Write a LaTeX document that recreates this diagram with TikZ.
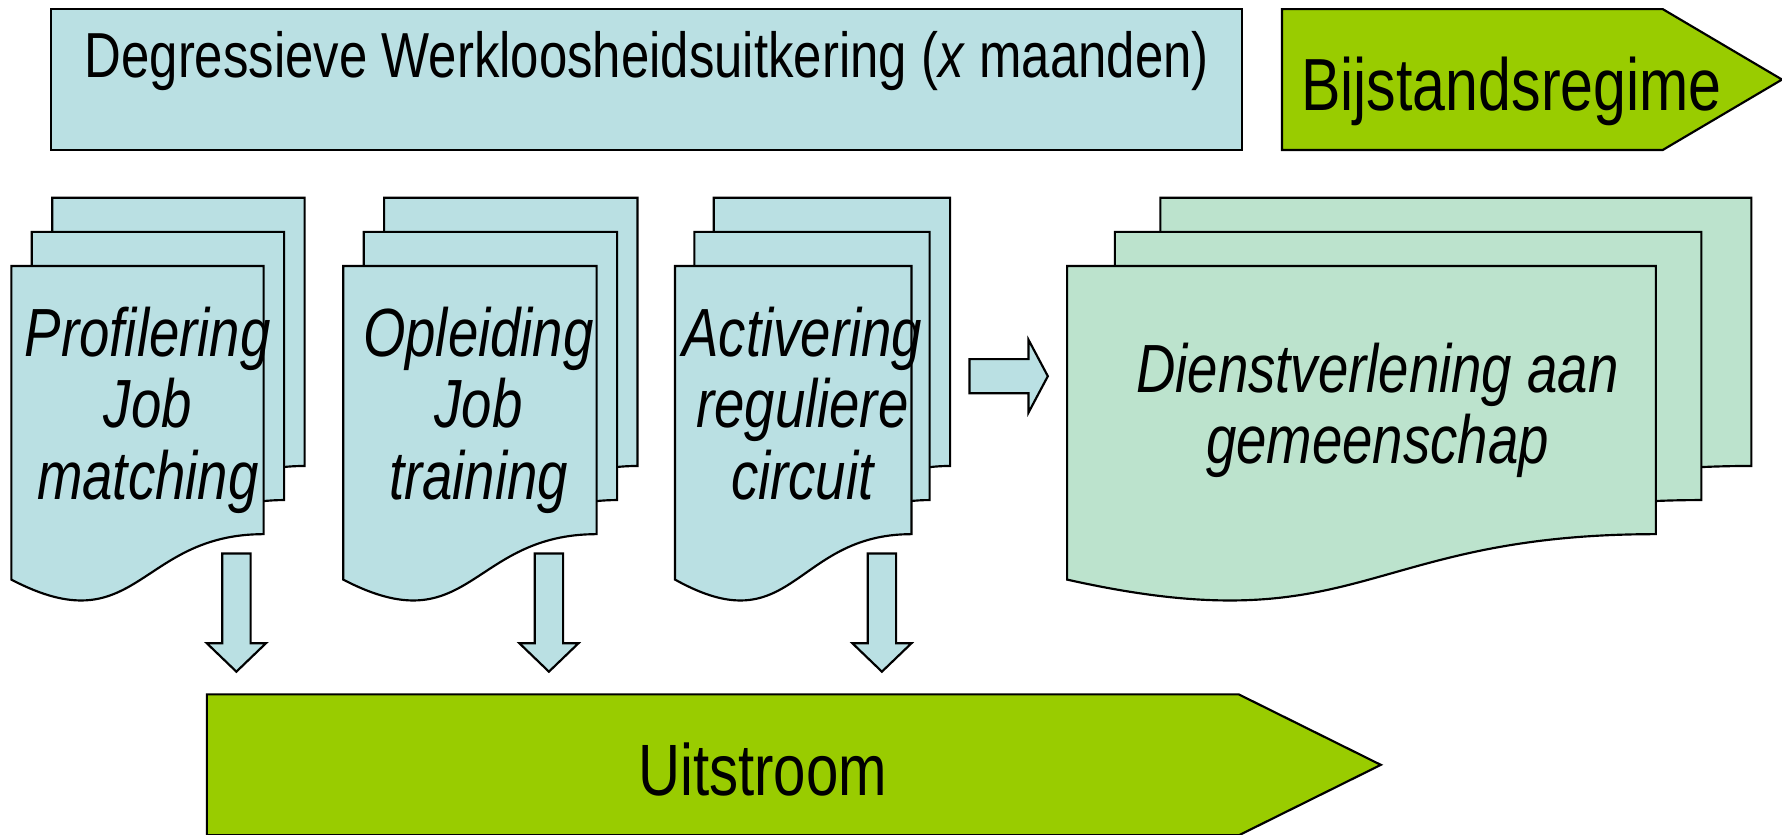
\documentclass[tikz,border=0pt]{standalone}
\usepackage{fontspec}
\setmainfont{Liberation Sans}[FakeStretch=0.8]
\definecolor{lblue}{HTML}{BAE0E3}
\definecolor{bjgreen}{HTML}{99CC00}
\definecolor{lgreen}{HTML}{BCE3CD}
\newcommand\docpage[4]{% style, left, right, top
  \path[#1] (#2,#4) -- (#3,#4) -- (#3,#4+236)
    .. controls ({(#2+#3)/2},#4+236) and ({(#2+#3)/2},#4+334) .. (#2,#4+276) -- cycle;}
\begin{document}
\begin{tikzpicture}[x=1pt,y=-1pt,line join=miter,
  bluebox/.style={draw=black,line width=1.9pt,fill=lblue},
  greenbox/.style={draw=black,line width=1.9pt,fill=bjgreen},
  paleshape/.style={draw=black,line width=1.9pt,fill=lgreen},
  bigtext/.style={anchor=base,inner sep=0pt},
  doctext/.style={align=center,inner sep=0pt,font=\itshape\fontsize{60}{63}\selectfont}]
\useasboundingbox (0,0) rectangle (1568,734);
\clip (0,0) rectangle (1568,734);
% top box
\path[bluebox] (45,8) rectangle (1093,132);
\node[bigtext,font=\fontsize{56}{63}\selectfont] (degr) at (569,68)
  {Degressieve Werkloosheidsuitkering (\textit{x} maanden)};
% Bijstandsregime
\path[greenbox] (1128,8) -- (1463,8) -- (1568,70) -- (1463,132) -- (1128,132) -- cycle;
\node[bigtext,font=\fontsize{65}{70}\selectfont] (bijst) at (1330,97) {Bijstandsregime};
% stack 1
\docpage{bluebox}{46}{268}{174}
\docpage{bluebox}{28}{250}{204}
\docpage{bluebox}{10}{232}{234}
\node[doctext] (prof) at (130,361) {Profilering\\Job\\matching};
% stack 2
\docpage{bluebox}{338}{561}{174}
\docpage{bluebox}{320}{543}{204}
\docpage{bluebox}{302}{525}{234}
\node[doctext] (opl) at (421,361) {Opleiding\\Job\\training};
% stack 3
\docpage{bluebox}{628}{836}{174}
\docpage{bluebox}{611}{818}{204}
\docpage{bluebox}{594}{802}{234}
\node[doctext] (act) at (706,355) {Activering\\reguliere\\circuit};
% stack 4
\docpage{paleshape}{1021}{1541}{174}
\docpage{paleshape}{981}{1497}{204}
\docpage{paleshape}{939}{1457}{234}
\node[doctext] (dienst) at (1212,361) {Dienstverlening aan\\gemeenschap};
% right block arrow
\path[bluebox] (853,316) -- (905,316) -- (905,299) -- (922,331) -- (905,363) -- (905,346) -- (853,346) -- cycle;
% down block arrows
\foreach \cx in {208,483,776}{
  \path[bluebox] (\cx-12.5,487) -- (\cx+12.5,487) -- (\cx+12.5,566) -- (\cx+26,566)
    -- (\cx,591) -- (\cx-26,566) -- (\cx-12.5,566) -- cycle;}
% Uitstroom
\path[greenbox] (182,611) -- (1090,611) -- (1215,673) -- (1090,735) -- (182,735) -- cycle;
\node[bigtext,font=\fontsize{64}{70}\selectfont] (uit) at (671,700) {Uitstroom};
\end{tikzpicture}
\end{document}
